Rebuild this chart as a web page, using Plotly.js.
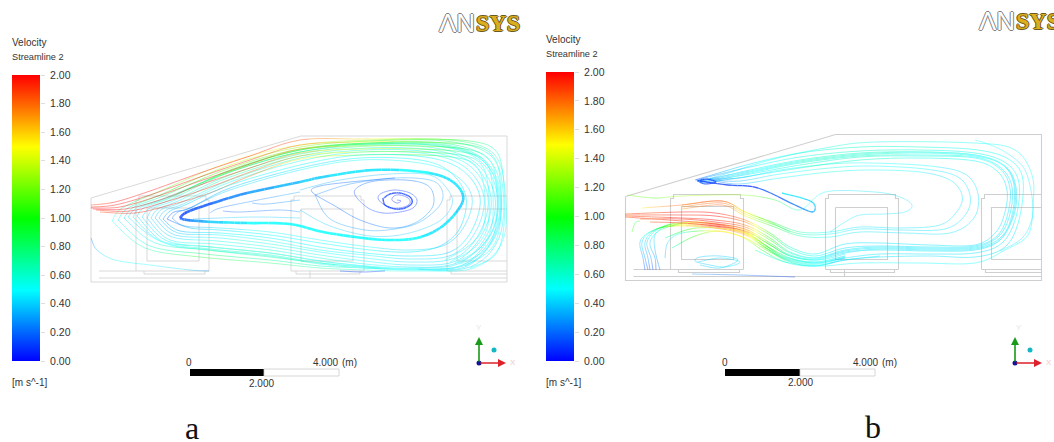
<!DOCTYPE html>
<html><head><meta charset="utf-8">
<script src="https://cdn.plot.ly/plotly-3.0.1.min.js"></script>
<style>html,body{margin:0;padding:0;background:#fff}#c{width:1054px;height:442px}</style>
</head><body><div id="c"></div>
<script>
// colour legend
const legendTicks=[0,0.2,0.4,0.6,0.8,1.0,1.2,1.4,1.6,1.8,2.0];
const rainbow=[[0,'#0000ff'],[0.25,'#00ffff'],[0.5,'#00ff00'],[0.75,'#ffff00'],[1,'#ff0000']];
// room geometry, read in panel a
const geoX=[91,301,507,507,91,91,null,99,507,null,136,136,139,139,206,206,209,209,null,99,209,null,144,144,205,205,null,147,199,199,147,147,null,
 291,291,294,294,361,361,364,364,null,291,364,null,296,296,360,360,null,301,353,353,301,301,null,310,310,null,
 447,447,450,450,507,null,507,457,457,507,null,447,507,null,451,451,507];
const geoY=[198,136,136,282,282,198,null,278,278,null,271,200,200,196,196,200,200,271,null,271,271,null,271,274,274,271,null,208,208,261,261,208,null,
 271,200,200,196,196,200,200,271,null,271,271,null,271,274,274,271,null,209,209,261,261,209,null,271,278,null,
 271,200,200,196,196,null,209,209,261,261,null,271,271,null,271,274,274];
// streamlines of panel a: x, y, speed
const aX=[
[180,187,213,247,300,323,373,423,450,463,458,440,417,390,363,323,290,247,213,187,180],
[172,178,190,230,300,360,420,455,472,465,445,410,370,320,270,220,185,172],
[163,170,185,230,300,360,425,462,480,472,450,410,365,320,270,220,180,163],
[155,162,180,230,300,365,430,470,488,480,455,410,365,320,270,220,175,155],
[147,154,175,230,300,370,435,476,495,487,458,410,365,320,270,215,170,147],
[137,145,170,230,300,370,440,482,500,495,465,410,365,320,270,210,165,137],
[128,138,165,230,300,370,440,482,498,492,460,410,365,320,270,210,160,128],
[118,128,160,230,300,370,445,490,503,499,470,415,365,320,270,205,150,118],
[167,174,190,230,300,360,420,450,466,460,440,410,370,320,270,220,190,167],
[142,150,172,230,300,370,438,479,497,491,461,410,365,320,270,212,167,142],
[133,141,168,230,300,370,440,481,499,494,463,410,365,320,270,210,162,133],
[124,134,163,230,300,370,442,486,501,496,466,412,365,320,270,207,155,124],
[159,166,183,230,300,362,428,466,484,476,452,410,365,320,270,220,178,159],
[151,158,178,230,300,367,432,473,491,483,456,410,365,320,270,218,172,151],
[112,122,158,230,300,370,450,493,505,503,474,418,365,320,270,200,145,112],
[91,115,150,200,250,300,360,420,470,495,503,504,495,470],
[91,115,150,200,250,300,360,420,470,492,500,500,490,465],
[91,120,155,200,250,300,360,420,465,488,496,496,485,460],
[93,125,160,200,250,300,360,420,462,484,492,492,480,455],
[96,130,165,205,250,300,360,420,460,480,488,488,475,450],
[100,135,170,210,250,300,360,420,458,476,484,484,470,445],
[397,401,397,392,394,400,408,410,404,393,383,378,382,395,410,417,413,400,383,368,355,358,375,405,425,433,432,415,390,360,335,312,320,350,395],
[384,390,400,410,412,405,395,385,383],
[300,340,390,430,448,452,438,405,370,330,300],
[315,350,395,430,442,440,420,395,365,330,315],
[210,220,253,300],
[223,240,280,300],
[252,267,300],
[193,253,300],
[91,97,115,150,190,209],
[340,362,385]
];
const aY=[
[218,212,203,193,182,177,170,172,180,195,210,228,238,240,238,232,224,223,222,220,218],
[218,212,208,190,170,160,163,175,197,225,245,250,247,240,232,228,226,218],
[219,211,205,185,165,155,157,170,197,230,252,256,253,247,238,233,231,219],
[218,209,203,180,158,150,152,166,197,232,258,262,258,252,244,238,235,218],
[218,208,200,175,154,146,148,163,197,235,264,267,264,258,250,244,240,218],
[216,207,198,170,150,143,144,158,190,235,267,269,268,264,256,250,243,216],
[217,207,198,172,152,144,146,160,192,232,262,268,266,261,253,247,241,217],
[220,208,195,165,147,141,141,155,190,238,267,270,268,266,260,254,246,220],
[219,212,208,188,168,158,160,172,197,228,246,252,250,243,235,230,228,219],
[217,208,199,172,152,145,146,160,193,234,266,269,266,261,253,247,241,217],
[217,207,198,171,150,144,145,159,191,234,265,269,267,263,255,249,242,217],
[218,207,196,168,149,143,143,157,190,235,265,269,267,263,257,250,243,218],
[218,210,204,182,161,152,154,168,197,231,255,259,255,250,241,235,233,218],
[218,209,201,177,156,148,150,164,197,233,261,265,261,255,247,241,237,218],
[221,208,192,162,145,140,140,153,190,240,268,271,270,268,263,257,248,221],
[205,202,191,173,156,140,139,139,141,150,175,225,255,268],
[207,205,195,177,160,145,142,142,145,155,178,225,250,266],
[208,207,197,181,164,149,146,146,149,158,180,225,250,264],
[209,209,200,185,168,153,149,149,152,160,182,225,248,263],
[210,211,202,189,172,156,152,152,155,163,185,225,247,262],
[212,213,205,193,176,159,155,155,158,166,187,225,245,260],
[200,201,203,200,196,195,198,203,207,208,204,198,193,190,193,200,208,212,213,208,195,187,181,180,184,193,208,223,228,220,206,192,186,182,178],
[198,194,193,197,203,208,209,205,198],
[190,180,174,175,190,205,222,234,236,226,210],
[195,184,178,180,190,205,222,229,230,219,195],
[213,208,201,192],
[211,212,210,212],
[203,204,200],
[219,217,218],
[238,250,260,265,270,271],
[271,272,271]
];
const aV=[
[.1,.12,.18,.28,.38,.42,.47,.48,.46,.42,.42,.45,.48,.5,.5,.5,.5,.48,.4,.2,.1],
[.2,.25,.3,.42,.48,.5,.5,.48,.46,.42,.42,.45,.48,.5,.5,.45,.3,.2],
[.3,.35,.4,.5,.52,.5,.5,.48,.46,.44,.42,.45,.5,.5,.52,.48,.35,.3],
[.35,.4,.45,.6,.6,.58,.52,.5,.46,.45,.44,.46,.5,.52,.55,.52,.4,.35],
[.4,.45,.52,.75,.72,.65,.58,.5,.46,.45,.44,.46,.5,.55,.58,.55,.45,.4],
[.4,.5,.6,.95,.85,.75,.65,.55,.48,.46,.45,.48,.52,.58,.6,.58,.5,.4],
[.42,.5,.58,.85,.78,.7,.6,.52,.46,.45,.45,.48,.5,.55,.6,.6,.5,.42],
[.45,.6,.85,1.4,1.25,1.05,.8,.6,.5,.46,.46,.5,.55,.62,.7,.8,.6,.45],
[.15,.2,.25,.38,.44,.48,.5,.48,.45,.42,.42,.45,.48,.5,.5,.46,.35,.15],
[.4,.45,.55,.8,.72,.68,.6,.5,.46,.45,.44,.48,.5,.55,.6,.58,.48,.4],
[.42,.5,.62,1.05,.95,.85,.7,.55,.48,.46,.45,.48,.52,.58,.62,.6,.5,.42],
[.42,.55,.72,1.2,1.1,.95,.75,.58,.48,.46,.46,.5,.54,.6,.66,.68,.55,.42],
[.32,.38,.42,.55,.56,.52,.5,.48,.46,.44,.42,.46,.5,.52,.54,.5,.38,.32],
[.38,.42,.48,.68,.66,.6,.55,.5,.46,.45,.44,.46,.5,.54,.56,.54,.42,.38],
[.48,.7,1.0,1.55,1.4,1.2,.9,.65,.52,.48,.48,.52,.6,.7,.8,.9,.65,.48],
[1.85,2,2,2,1.98,1.85,1.55,1.3,.85,.62,.5,.48,.48,.48],
[1.95,2,2,2,1.95,1.8,1.5,1.25,.8,.6,.5,.48,.48,.48],
[2,2,2,2,1.92,1.75,1.45,1.2,.75,.58,.5,.48,.48,.48],
[2,2,2,2,1.9,1.7,1.4,1.15,.72,.55,.5,.48,.48,.48],
[1.95,2,2,1.95,1.85,1.65,1.35,1.05,.68,.55,.5,.48,.48,.48],
[1.85,1.95,1.95,1.9,1.8,1.55,1.25,1.0,.64,.52,.5,.48,.48,.48],
[.05,.05,.05,.05,.05,.05,.05,.08,.08,.08,.1,.1,.1,.1,.1,.1,.12,.12,.12,.15,.15,.2,.2,.2,.25,.25,.28,.28,.25,.2,.2,.2,.2,.2,.2],
[.1,.1,.1,.1,.1,.1,.1,.1,.1],
[.35,.35,.38,.4,.42,.42,.42,.42,.42,.4,.35],
[.25,.25,.28,.3,.3,.3,.3,.3,.3,.28,.25],
[.2,.2,.25,.3],
[.15,.18,.22,.3],
[.25,.25,.3],
[.35,.4,.42],
[.2,.35,.48,.5,.4,.25],
[.15,.1,.15]
];
const aW=[2.6,.8,.9,.8,.8,.8,.8,.8,.9,.8,.8,.8,.8,.8,.7,.8,.8,.8,.8,.8,.8,.8,1.4,.7,.7,.7,.7,.7,.7,.7,.8];
// streamlines of panel b
const bX=[
[625,682,715,745,770,790,815,845,880,930,975,1000,1012,1014,1003,975,920,860,800,750,715,698],
[625,682,715,745,770,790,815,845,880,930,975,1000,1014,1016,1005,975,920,860,800,750,715,698],
[625,682,715,745,770,790,815,845,880,930,975,998,1008,1010,1000,975,920,860,800,750,715,700],
[625,682,715,745,770,790,815,845,880,930,975,996,1005,1007,998,975,920,860,800,750,718,702],
[640,682,715,745,770,790,815,845,880,930,975,999,1010,1012,1001,975,920,860,800,750,716,700],
[650,682,715,745,770,790,815,845,880,930,975,1001,1013,1015,1004,975,920,860,800,750,714,697],
[665,690,715,745,770,790,815,845,880,930,975,1002,1016,1019,1006,975,920,860,800,750,712,696],
[672,695,720,745,770,790,815,845,880,930,975,1005,1019,1023,1010,978,920,860,800,750,712,695],
[682,722,745,772,800,830,860,900,940,958,962,950,920,870,830,780,740,715],
[682,722,745,772,800,830,860,900,945,966,970,958,925,870,830,780,740,712],
[682,722,745,772,800,830,860,905,950,974,978,965,930,870,830,780,740,710],
[755,785,820,860,920,975,1005,1028,1033,1032,1015,975,875,825,770,725,700],
[656,655,650,662,678,715,745,765,785,815,845],
[650,648,645,655,675,715,745,765,787,817,845],
[645,643,640,650,672,715,745,767,790,820,845],
[653,651,647,658,676,715,745,766,786,816,845],
[648,645,642,652,673,715,745,766,788,818,845],
[660,655,655,665,690,720,745,767,790,818,845],
[665,668,682,715,742,765,788,815,845,880],
[627,655,682,742,775,800,825,875,900,912,905,885,860,845,830],
[642,682,722,745,770,790],
[632,635,640],
[698,720,740,725,705,695,700,720,738,720,700],
[692,740,795],
[700,728,758,795,812,815,808,782],
[697,706,716,705,698],
[1000,1020,1030,1033,1025,1005,985,975]
];
const bY=[
[217,221,224,229,243,255,259,252,250,251,250,240,215,185,165,155,152,153,160,170,178,181],
[216,218,220,225,238,252,258,251,248,249,248,238,215,187,166,156,153,155,162,172,179,181],
[215,215,216,222,235,249,256,248,246,247,246,235,213,188,169,158,156,157,165,174,180,182],
[214,212,213,220,233,247,254,244,243,245,245,232,212,190,172,161,158,160,168,176,181,183],
[219,219,222,227,240,253,258,250,247,248,247,236,214,187,168,157,155,156,163,173,180,182],
[222,223,226,231,245,256,260,253,249,250,249,239,215,186,166,155,152,154,161,171,178,181],
[238,229,228,233,248,258,263,258,254,254,253,243,217,183,163,153,150,151,157,167,176,180],
[248,236,231,238,252,262,266,260,257,256,257,247,220,180,160,150,147,147,153,164,175,180],
[205,201,212,222,232,232,227,228,225,210,195,180,172,170,172,178,184,181],
[207,203,214,224,234,234,229,230,229,214,195,177,169,166,168,174,181,180],
[209,205,216,226,236,237,232,233,233,218,194,174,166,163,164,170,178,179],
[250,262,266,263,263,263,250,235,205,175,150,143,142,148,160,174,181],
[270,258,242,228,223,224,232,245,257,262,256],
[270,258,242,230,225,226,233,247,259,263,257],
[270,258,242,232,226,228,235,249,261,265,258],
[270,258,242,229,224,225,232,246,258,262,256],
[270,258,242,231,226,227,234,248,260,264,257],
[270,250,235,228,222,224,230,243,256,260,254],
[258,242,233,231,237,252,263,266,260,256],
[195,198,196,195,200,210,192,192,197,205,212,214,215,222,232],
[208,205,201,212,222,232],
[232,223,221],
[262,258,262,267,264,261,257,256,260,268,265],
[274,275,277],
[181,185,188,205,212,206,200,193],
[181,179,182,184,181],
[251,240,225,205,170,152,143,140]
];
const vBand=[1.85,1.95,2,1.8,1.05,.62,.5,.45,.45,.45,.45,.45,.45,.45,.48,.52,.55,.62,.58,.48,.35,.2];
const vLow=[.6,1.1,1.5,1.55,1.05,.62,.5,.45,.45,.45,.45,.45,.48,.48,.5,.55,.58,.62,.55,.45,.3,.15];
const vInner=[1.7,1.85,1.5,1.0,.65,.5,.45,.45,.45,.45,.45,.45,.48,.5,.55,.5,.35,.2];
const vFan=[.08,.3,.4,.62,1.35,1.9,1.65,1.05,.62,.5,.45];
const bV=[vBand,vBand,vBand,vBand,vBand,vBand,vLow,vLow,vInner,vInner,vInner,
[.7,.55,.5,.48,.48,.48,.48,.48,.48,.48,.5,.52,.55,.58,.52,.42,.35],
vFan,vFan,vFan,vFan,vFan,
[.2,.35,.45,.7,1.4,1.8,1.55,1.0,.6,.5,.45],
[.35,.42,.55,1.6,1.5,.95,.58,.5,.45,.45],
[1.2,1.1,1.3,1.3,.9,.6,.48,.45,.45,.45,.45,.45,.45,.45,.42],
[1.5,1.9,1.85,1.5,1.1,.7],
[1.1,1.0,.9],
[.4,.42,.45,.45,.4,.35,.4,.42,.42,.4,.38],
[.25,.2,.1],
[.1,.1,.12,.2,.3,.4,.42,.45],
[.15,.1,.1,.12,.15],
[.45,.45,.45,.45,.45,.48,.5,.52]
];
const bW=[.9,.9,.9,.9,.9,.9,.9,.9,.8,.8,.8,.8,.8,.8,.8,.8,.8,.8,.8,.7,.7,.7,.8,.7,1.3,1.2,.7];

// curve through read points, used for drawing only
function smooth(xs,ys,vs){
  const out=[];const n=xs.length,steps=6;
  for(let i=0;i<n-1;i++){
    const a=Math.max(i-1,0),b=i+1,c=Math.min(i+2,n-1);
    for(let s=0;s<steps;s++){
      const t=s/steps,t2=t*t,t3=t2*t;
      const f=(p0,p1,p2,p3)=>.5*(2*p1+(p2-p0)*t+(2*p0-5*p1+4*p2-p3)*t2+(3*p1-p0-3*p2+p3)*t3);
      out.push([f(xs[a],xs[i],xs[b],xs[c]),f(ys[a],ys[i],ys[b],ys[c]),vs[i]+(vs[b]-vs[i])*t]);
    }
  }
  out.push([xs[n-1],ys[n-1],vs[n-1]]);
  return out;
}
function speedColor(v){
  const s=[[0,0,255],[0,255,255],[0,255,0],[255,255,0],[255,0,0]];
  const u=Math.min(Math.max(v/0.5,0),3.999),k=Math.floor(u),f=u-k;
  return 'rgb('+s[k].map((c,j)=>Math.round(c+(s[k+1][j]-c)*f)).join(',')+')';
}
const groups={};
function addLines(X,Y,V,W){
  X.forEach((xs,i)=>{
    const p=smooth(xs,Y[i],V[i]);
    for(let j=0;j<p.length-1;j++){
      const b=Math.round((p[j][2]+p[j+1][2])/2/0.05);
      const key=b+'|'+W[i];
      const g=groups[key]||(groups[key]={x:[],y:[],v:b*0.05,w:W[i]});
      g.x.push(p[j][0],p[j+1][0],null);g.y.push(p[j][1],p[j+1][1],null);
    }
  });
}
addLines(aX,aY,aV,aW);
addLines(bX,bY,bV,bW);

const traces=[];
const dxB=534.5,dyB=-1.5;
[[0,0],[dxB,dyB]].forEach(o=>traces.push({type:'scatter',mode:'lines',hoverinfo:'skip',showlegend:false,
  x:geoX.map(v=>v===null?null:v+o[0]),y:geoY.map(v=>v===null?null:v+o[1]),
  line:{color:'#cfcfcf',width:o[0]?1.1:.8}}));
Object.values(groups).sort((p,q)=>p.w-q.w).forEach(g=>traces.push({type:'scatter',mode:'lines',hoverinfo:'skip',showlegend:false,
  x:g.x,y:g.y,opacity:g.w>2?.8:(g.w>1.1?.75:.5),line:{color:speedColor(g.v),width:g.w}}));
// colour bars
[['x2','y2'],['x3','y3']].forEach(a=>traces.push({type:'heatmap',xaxis:a[0],yaxis:a[1],x:[0,1],y:legendTicks,
  z:legendTicks.map(t=>[t,t]),zmin:0,zmax:2,zsmooth:'best',colorscale:rainbow,showscale:false,hoverinfo:'skip'}));
// triads
const triad=[[479,363,1],[1015,363,1]];
triad.forEach(t=>{
  traces.push({type:'scatter',mode:'markers',hoverinfo:'skip',showlegend:false,x:[t[0]+15],y:[t[1]-13],marker:{size:5,color:'#14b8c4'}});
});
// logos
[[439,476,25],[979,1016,23]].forEach(l=>{
  traces.push({type:'scatter',mode:'text',hoverinfo:'skip',showlegend:false,x:[l[0]],y:[l[2]],text:['ΛN'],textposition:'middle right',
    textfont:{family:'Liberation Sans',size:26,color:'#ffffff',shadow:'1px 0 #808080,-1px 0 #808080,0 1px #808080,0 -1px #808080'}});
  traces.push({type:'scatter',mode:'text',hoverinfo:'skip',showlegend:false,x:[l[1]],y:[l[2]],text:['SYS'],textposition:'middle right',
    textfont:{family:'Liberation Serif',weight:700,size:24,color:'#dcae1d',shadow:'1px 0 #6b5a1e,-1px 0 #6b5a1e,0 1px #6b5a1e,0 -1px #6b5a1e'}});
});

const TX=(x,y,s,size,anchor,color,fam)=>({x,y,text:s,showarrow:false,xanchor:anchor||'left',yanchor:'middle',xref:'x',yref:'y',
  font:{family:fam||'Liberation Sans',size:size||10,color:color||'#333333'}});
const annotations=[
 TX(10,42,'Velocity',10),TX(10,57,'Streamline 2',9.2),TX(10,382,'[m s^-1]',10),
 TX(544,39,'Velocity',10),TX(544,54,'Streamline 2',9.2),TX(544,382,'[m s^-1]',10),
 TX(189,362,'0',10,'center'),TX(311,362,'4.000',10),TX(340,362,'(m)',10),TX(261,383,'2.000',10,'center'),
 TX(725,362,'0',10,'center'),TX(851,362,'4.000',10),TX(880,362,'(m)',10),TX(800,382,'2.000',10,'center'),
 TX(192,428,'a',32,'center','#111','Liberation Serif'),TX(873,427,'b',32,'center','#111','Liberation Serif'),
 TX(474,327,'Y',8,'left','#e4e4e4'),TX(508,362,'X',8,'left','#f0c8c8'),
 TX(1014,327,'Y',8,'left','#e4e4e4'),TX(1044,362,'X',8,'left','#f0c8c8')
];
triad.forEach(t=>{
  annotations.push({x:t[0],y:t[1]-26,ax:t[0],ay:t[1],axref:'x',ayref:'y',xref:'x',yref:'y',showarrow:true,text:'',arrowcolor:'#1a9a1a',arrowwidth:1.6,arrowhead:2,arrowsize:1});
  annotations.push({x:t[0]+27,y:t[1],ax:t[0],ay:t[1],axref:'x',ayref:'y',xref:'x',yref:'y',showarrow:true,text:'',arrowcolor:'#e0202a',arrowwidth:1.6,arrowhead:2,arrowsize:1});
});
const shapes=[
 {type:'rect',xref:'x',yref:'y',x0:190,x1:264,y0:369,y1:376,fillcolor:'#000',line:{width:0}},
 {type:'rect',xref:'x',yref:'y',x0:264,x1:339,y0:369,y1:376,fillcolor:'#fff',line:{color:'#cccccc',width:.8}},
 {type:'rect',xref:'x',yref:'y',x0:725,x1:800,y0:369,y1:376,fillcolor:'#000',line:{width:0}},
 {type:'rect',xref:'x',yref:'y',x0:800,x1:875,y0:369,y1:376,fillcolor:'#fff',line:{color:'#cccccc',width:.8}}
];
triad.forEach(t=>shapes.push({type:'circle',xref:'x',yref:'y',x0:t[0]-2.5,x1:t[0]+2.5,y0:t[1]-2.5,y1:t[1]+2.5,fillcolor:'#12129a',line:{width:0},layer:'above'}));
const H=442,W=1054;
const cbAxis=(top,bottom,x)=>({domain:[1-bottom/H,1-top/H],range:[0,2],side:'right',anchor:x,tickvals:legendTicks,tickformat:'.2f',ticks:'outside',ticklen:4,tickcolor:'#dddddd',ticklabelstandoff:3,
  showgrid:false,zeroline:false,showline:false,tickfont:{family:'Liberation Sans',size:10.5,color:'#333333'}});
const hidden=(d,anchor)=>({domain:d,range:[0,1],visible:false,anchor:anchor,fixedrange:true});
const layout={width:W,height:H,margin:{l:0,r:0,t:0,b:0},paper_bgcolor:'#fff',plot_bgcolor:'rgba(0,0,0,0)',showlegend:false,
 xaxis:{domain:[0,1],range:[0,W],visible:false,fixedrange:true},
 yaxis:{domain:[0,1],range:[H,0],visible:false,fixedrange:true},
 xaxis2:hidden([12/W,40/W],'y2'),yaxis2:cbAxis(75,361,'x2'),
 xaxis3:hidden([546/W,574/W],'y3'),yaxis3:cbAxis(72,361,'x3'),
 annotations,shapes};
Plotly.newPlot('c',traces,layout,{staticPlot:true,displayModeBar:false});
</script></body></html>
